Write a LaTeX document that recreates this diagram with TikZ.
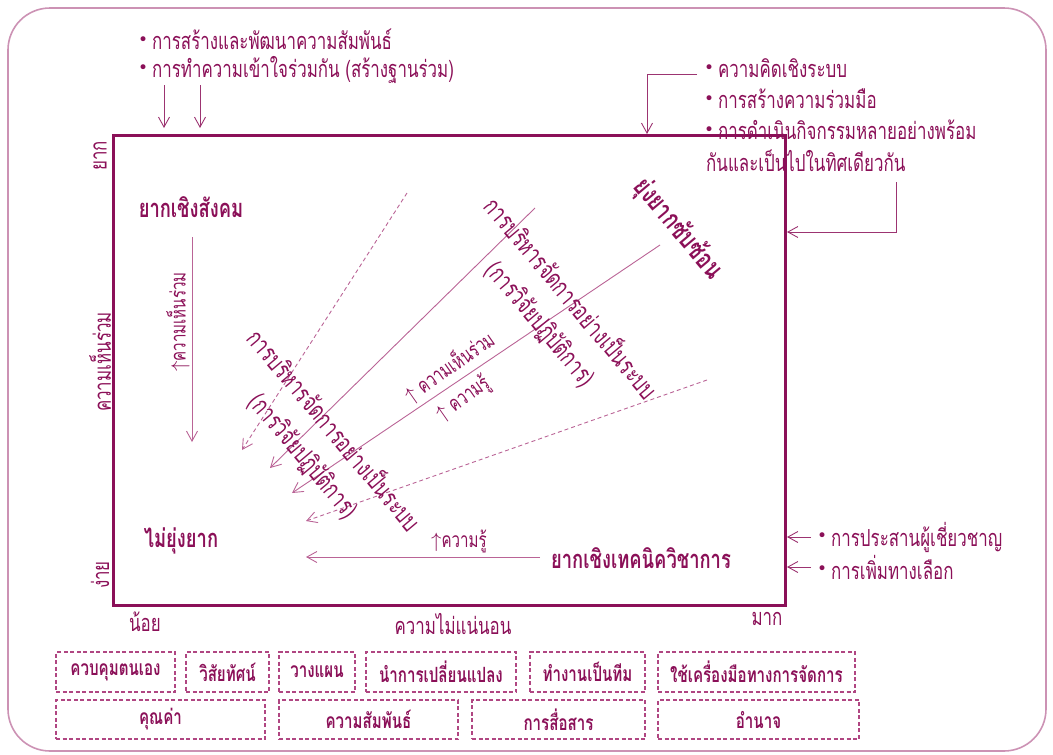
\documentclass[tikz,border=0pt]{standalone}
\usepackage{fontspec}
\usetikzlibrary{arrows.meta}
\newfontfamily\thai[Script=Thai,FakeStretch=0.72]{Loma}
\newfontfamily\symf{DejaVu Sans}
\definecolor{maincol}{RGB}{139,16,88}
\definecolor{linecol}{RGB}{186,100,150}
\definecolor{framecol}{RGB}{204,146,180}
\definecolor{dashcol}{RGB}{176,70,130}
\newcommand\bul{\raisebox{0.18em}{\symf\fontsize{17}{17}\selectfont\textbullet}\,}
\newcommand\upar{$\uparrow$}

\begin{document}
\begin{tikzpicture}[x=1pt,y=-1pt,
  txt/.style={font=\thai\fontsize{23.5}{27}\selectfont,text=maincol,inner sep=0pt},
  btxt/.style={font=\thai\bfseries\fontsize{25.5}{29}\selectfont,text=maincol,inner sep=0pt},
  stxt/.style={font=\thai\fontsize{21}{24}\selectfont,text=maincol,inner sep=0pt},
  ltxt/.style={font=\thai\fontsize{25.5}{39}\selectfont,text=maincol,inner sep=0pt,align=center},
  flow/.style={draw=linecol,line width=0.9pt,-{Straight Barb[length=10pt,width=11pt]}},
  dflow/.style={flow,dash pattern=on 4pt off 3pt},
  dbox/.style={draw=dashcol,line width=1.3pt,dash pattern=on 4pt off 2.5pt,
    font=\thai\bfseries\fontsize{21}{24}\selectfont,text=maincol,inner sep=0pt},
]
\useasboundingbox (0,0) rectangle (1053,755);

% outer frame
\draw[framecol,line width=1.6pt,rounded corners=42pt] (8,8) rectangle (1046,751);

% main square
\draw[maincol,line width=3pt] (113,135) rectangle (785,605);

% axis labels
\node[txt,rotate=90] (yhard) at (100,156) {ยาก};
\node[txt,rotate=90] (yaxis) at (100,362) {ความเห็นร่วม};
\node[txt,rotate=90] (yeasy) at (100,575) {ง่าย};
\node[txt] (xlow) at (145,622) {น้อย};
\node[txt] (xaxis) at (453,624) {ความไม่แน่นอน};
\node[txt] (xhigh) at (767,619) {มาก};

% notes above the square, left
\node[txt,anchor=west] (tl1) at (138,39) {\bul การสร้างและพัฒนาความสัมพันธ์};
\node[txt,anchor=west] (tl2) at (138,70) {\bul การทำความเข้าใจร่วมกัน (สร้างฐานร่วม)};
\coordinate (ta1) at (164,85);  \coordinate (tb1) at (164,128);
\coordinate (ta2) at (200,85);  \coordinate (tb2) at (200,128);
\draw[flow,draw=maincol!85] (ta1) -- (tb1);
\draw[flow,draw=maincol!85] (ta2) -- (tb2);

% notes above the square, right
\node[txt,anchor=west] (tr1) at (704,68) {\bul ความคิดเชิงระบบ};
\node[txt,anchor=west] (tr2) at (704,99) {\bul การสร้างความร่วมมือ};
\node[txt,anchor=west] (tr3) at (704,130) {\bul การดำเนินกิจกรรมหลายอย่างพร้อม};
\node[txt,anchor=west] (tr4) at (706,161) {กันและเป็นไปในทิศเดียวกัน};
\coordinate (tra) at (697,74);
\coordinate (trb) at (647,134);
\draw[flow,draw=maincol!85] (tra) -| (trb);
\coordinate (rra) at (896,182);
\coordinate (rrb) at (787,232);
\draw[flow,draw=maincol!85] (rra) |- (rrb);

% notes right of the square
\node[txt,anchor=west] (br1) at (817,537) {\bul การประสานผู้เชี่ยวชาญ};
\node[txt,anchor=west] (br2) at (817,567) {\bul การเพิ่มทางเลือก};
\coordinate (bra) at (811,537); \coordinate (brb) at (787,537);
\coordinate (bsa) at (811,567); \coordinate (bsb) at (787,567);
\draw[flow,draw=maincol!85] (bra) -- (brb);
\draw[flow,draw=maincol!85] (bsa) -- (bsb);

% quadrant labels
\node[btxt] (social) at (191,207) {ยากเชิงสังคม};
\node[btxt] (simple) at (181,541) {ไม่ยุ่งยาก};
\node[btxt] (tech) at (641,558) {ยากเชิงเทคนิควิชาการ};
\node[btxt,rotate=-50,font=\thai\bfseries\fontsize{27.5}{31}\selectfont] (complex) at (678,229) {ยุ่งยากซับซ้อน};

% social axis arrow
\coordinate (sa) at (192,237); \coordinate (sb) at (192,442);
\draw[flow] (sa) -- (sb);
\node[stxt,rotate=90] (sl) at (178,322) {\upar ความเห็นร่วม};

% technical axis arrow
\coordinate (ha) at (540,557); \coordinate (hb) at (306,557);
\draw[flow] (ha) -- (hb);
\node[stxt,anchor=west] (hl) at (431,541) {\upar ความรู้};

% fan of paths toward the simple corner
\coordinate (d1a) at (407,193); \coordinate (d1b) at (242,450);
\coordinate (d2a) at (535,208); \coordinate (d2b) at (270,468);
\coordinate (d3a) at (660,245); \coordinate (d3b) at (292,493);
\coordinate (d4a) at (707,380); \coordinate (d4b) at (306,521);
\draw[dflow] (d1a) -- (d1b);
\draw[flow] (d2a) -- (d2b);
\draw[flow] (d3a) -- (d3b);
\draw[dflow] (d4a) -- (d4b);
\node[stxt,rotate=35] (fl1) at (449,367) {\upar\ ความเห็นร่วม};
\node[stxt,rotate=35] (fl2) at (463,399) {\upar\ ความรู้};

% systematic management labels
\node[ltxt,rotate=-50] (sys1) at (556,311) {การบริหารจัดการอย่างเป็นระบบ\\(การวิจัยปฏิบัติการ)};
\node[ltxt,rotate=-50] (sys2) at (319,443) {การบริหารจัดการอย่างเป็นระบบ\\(การวิจัยปฏิบัติการ)};

% competency boxes
\node[dbox,minimum width=119pt,minimum height=40pt] (c1) at (115.5,672) {ควบคุมตนเอง};
\node[dbox,minimum width=83pt,minimum height=40pt] (c2) at (227.5,672) {วิสัยทัศน์};
\node[dbox,minimum width=76pt,minimum height=40pt] (c3) at (317,672) {วางแผน};
\node[dbox,minimum width=150pt,minimum height=40pt] (c4) at (441,672) {นำการเปลี่ยนแปลง};
\node[dbox,minimum width=115pt,minimum height=40pt] (c5) at (587.5,672) {ทำงานเป็นทีม};
\node[dbox,minimum width=197pt,minimum height=40pt] (c6) at (756.5,672) {ใช้เครื่องมือทางการจัดการ};
\node[dbox,minimum width=209pt,minimum height=39pt] (v1) at (160.5,719.5) {คุณค่า};
\node[dbox,minimum width=179pt,minimum height=39pt] (v2) at (368.5,719.5) {ความสัมพันธ์};
\node[dbox,minimum width=173pt,minimum height=39pt] (v3) at (558.5,719.5) {การสื่อสาร};
\node[dbox,minimum width=201pt,minimum height=39pt] (v4) at (758.5,719.5) {อำนาจ};
\end{tikzpicture}
\end{document}
